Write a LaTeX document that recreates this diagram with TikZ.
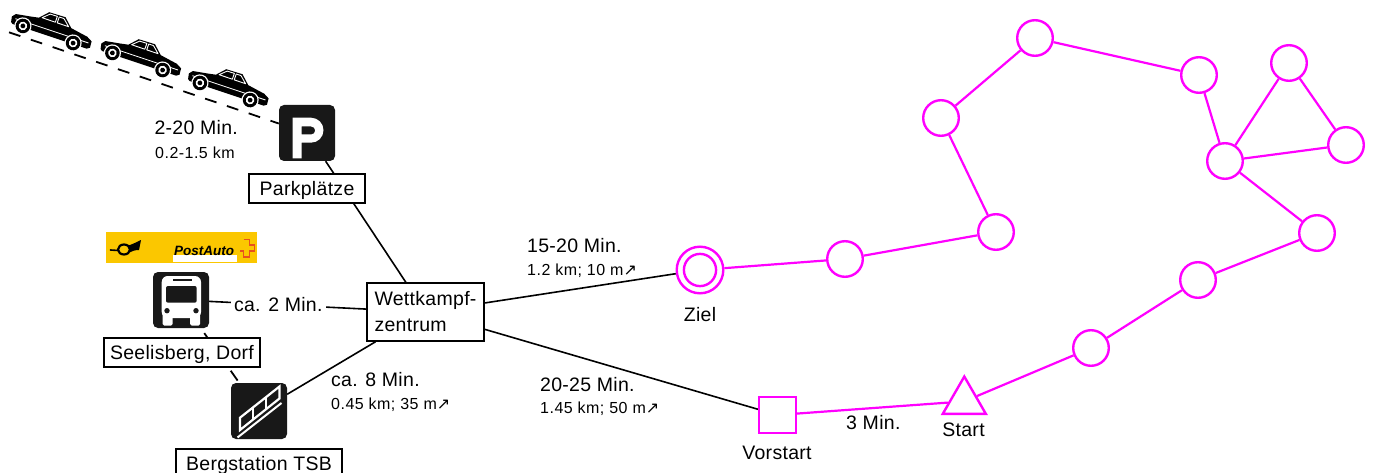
\documentclass[tikz,border=0pt]{standalone}
\usepackage{fontspec}
\setmainfont{Liberation Sans}[LetterSpace=1.5]
\newfontfamily\smallfont{Liberation Sans}[LetterSpace=3]
\newfontfamily\arrowfont{DejaVu Sans}
\newfontfamily\logofont{Liberation Sans}
\usetikzlibrary{shapes.geometric,backgrounds,calc}
\definecolor{mag}{HTML}{FF00FF}
\definecolor{iconbg}{HTML}{181818}
\definecolor{pyellow}{HTML}{FBC700}
\definecolor{pred}{HTML}{E8501E}
\newcommand\risearrow{{\arrowfont\symbol{"2197}}}
\begin{document}
\begin{tikzpicture}[x=1pt,y=-1pt,
  lbl/.style={font=\fontsize{19.5}{26}\selectfont},
  sml/.style={font=\smallfont\fontsize{16}{18}\selectfont},
  free/.style={inner sep=0pt, anchor=base west},
  boxbase/.style={draw, line width=1.5pt, fill=white, inner sep=0pt, lbl},
  tag/.style={boxbase, text height=16pt, text depth=2pt, minimum height=29pt},
  icon/.style={fill=iconbg, rounded corners=5pt, minimum size=56pt, inner sep=0pt},
  conn/.style={line width=1.6pt},
  dconn/.style={line width=1.8pt, dash pattern=on 12pt off 11pt},
  mcircle/.style={circle, draw=mag, line width=2.4pt, fill=white, minimum size=35.6pt, inner sep=0pt},
  medge/.style={draw=mag, line width=2.2pt},
  car/.pic={
    \fill (-39,0) -- (-40,5.5) -- (-37,9) -- (-22,11.5) -- (-14,13) -- (-6,21.5)
      -- (11,22) -- (20,13.5) -- (38,10.5) -- (43.5,7.5) -- (44,1) -- (41,-1) -- (-37,-1.5) -- cycle;
    \draw[white, line width=0.9pt, line join=round]
      (-11,14) -- (-4.5,20) -- (3,20.2) -- (3,14) -- cycle
      (5,14) -- (5,20.2) -- (10,20.2) -- (17,14) -- cycle;
    \draw[white, line width=0.8pt] (-36,4.5) -- (41,5);
    \foreach \wx in {-26.5,26.5} {
      \fill[white] (\wx,0) circle[radius=8.6pt];
      \fill (\wx,0) circle[radius=7.3pt];
      \fill[white] (\wx,0) circle[radius=4.3pt];
      \fill (\wx,0) circle[radius=2.4pt];
    }
  }
]
\useasboundingbox (0,0) rectangle (1373,473);

% parked cars along the access road
\coordinate (carstart) at (9,32.3);
\pic[rotate=-18.8, yscale=-1] at (48,34.5) {car};
\pic[rotate=-18.8, yscale=-1] at (137.5,61.5) {car};
\pic[rotate=-18.8, yscale=-1] at (225,91.5) {car};

% pictogram tiles
\node[icon] (park) at (307,133) {};
\fill[white, even odd rule]
  (292.7,158.3) -- (292.7,117.7) -- (311,117.7) arc[start angle=90, end angle=-90, radius=12.5pt]
  -- (301.7,142.7) -- (301.7,158.3) -- cycle
  (301.7,126.5) -- (311.2,126.5) arc[start angle=90, end angle=-90, radius=4pt]
  -- (301.7,134.5) -- cycle;

\node[icon] (bus) at (181,300) {};
\fill[white, rounded corners=6pt] (161.7,276) rectangle (201,318);
\fill[white, rounded corners=1.5pt] (162.7,314) rectangle (172.5,325.7);
\fill[white, rounded corners=1.5pt] (190.2,314) rectangle (200,325.7);
\fill[iconbg, rounded corners=2pt] (166,286) rectangle (196.7,302.7);
\fill[iconbg] (173,279) rectangle (192,281.2);
\fill[iconbg] (167,310.7) circle[radius=2.7pt];
\fill[iconbg] (196,310.7) circle[radius=2.7pt];

\node[icon] (gond) at (259,411) {};
\coordinate (g1) at (240,417.7);
\coordinate (g2) at (279.5,386.5);
\coordinate (g3) at (279.5,398.5);
\coordinate (g4) at (240,430);
\draw[white, line width=2.2pt] (g1) -- (g2) -- (g3) -- (g4) -- cycle;
\draw[white, line width=2.2pt]
  ($(g1)!1/3!(g2)$) -- ($(g4)!1/3!(g3)$)
  ($(g1)!2/3!(g2)$) -- ($(g4)!2/3!(g3)$);
\draw[white, line width=2pt] (237.5,437.5) -- (281.5,403);

% PostAuto sign
\node[fill=pyellow, minimum width=151pt, minimum height=31pt, inner sep=0pt] (logo) at (181.5,247.5) {};
\draw[line width=1.6pt, line cap=round] (110.5,250) -- (118,250.5);
\draw[line width=2.2pt] (124,249.5) ellipse[x radius=6pt, y radius=5pt];
\fill (128.5,245.5) .. controls (133,244) and (137,242) .. (141,240)
  -- (139,250) .. controls (135,250) and (132,251) .. (129.5,252.5) -- cycle;
\fill[white] (173,255) rectangle (237,261.5);
\node[inner sep=0pt, anchor=base west, font=\logofont\bfseries\itshape\fontsize{13.5}{15}\selectfont]
  (logotxt) at (174,255) {PostAuto};
\draw[pred, line width=1.5pt, line join=miter]
  (243.5,239.5) -- (249.5,239.5) -- (249.5,245) -- (254.5,245) -- (254.5,251) -- (249.5,251)
  -- (249.5,257) -- (243.5,257) -- (243.5,251) -- (240,251);

% named places
\node[tag, minimum width=116pt] (parktxt) at (307,188.5) {Parkplätze};
\node[tag, minimum width=156pt] (dorf) at (182,352.5) {Seelisberg, Dorf};
\node[tag, minimum width=166pt] (tsb) at (259,463.5) {Bergstation TSB};
\node[boxbase, minimum width=117pt, minimum height=58pt, align=left] (wk) at (425.5,312) {Wettkampf-\\zentrum};

% walking times
\node[lbl, free] (t1) at (527,252.3) {15-20 Min.};
\node[sml, free] (d1) at (527,275) {1.2 km; 10 m\risearrow};
\node[lbl, free] (t2) at (540,391) {20-25 Min.};
\node[sml, free] (d2) at (540,413.3) {1.45 km; 50 m\risearrow};
\node[lbl, free] (t3) at (331,386.7) {ca. 8 Min.};
\node[sml, free] (d3) at (331,409) {0.45 km; 35 m\risearrow};
\node[lbl, free] (t4) at (154.3,135) {2-20 Min.};
\node[sml, free] (d4) at (155,158.3) {0.2-1.5 km};

% competition course
\node[mcircle, minimum size=46.6pt] (ziel) at (700,270) {};
\draw[mag, line width=2.4pt] (ziel.center) circle[radius=16.1pt];
\node[lbl, inner sep=0pt, anchor=base] (zieltxt) at (700,321.7) {Ziel};
\node[draw=mag, line width=2.4pt, fill=white, minimum width=36.6pt, minimum height=35.6pt, inner sep=0pt] (vor) at (777.5,415) {};
\node[lbl, inner sep=0pt, anchor=base] (vortxt) at (777,459) {Vorstart};
\node[regular polygon, regular polygon sides=3, draw=mag, line width=2.4pt, fill=white, minimum size=49.7pt, inner sep=0pt] (start) at (964.3,401.4) {};
\node[lbl, inner sep=0pt, anchor=base] (starttxt) at (963.5,436) {Start};
\node[lbl, free] (t5) at (846,429.3) {3 Min.};
\node[mcircle] (m1) at (845,259) {};
\node[mcircle] (m2) at (996,232) {};
\node[mcircle] (m3) at (941,118) {};
\node[mcircle] (m4) at (1035,38) {};
\node[mcircle] (m5) at (1199,75) {};
\node[mcircle] (m6) at (1225,161) {};
\node[mcircle] (m7) at (1289,63) {};
\node[mcircle] (m8) at (1346,145) {};
\node[mcircle] (m9) at (1317,233) {};
\node[mcircle] (m10) at (1198,280) {};
\node[mcircle] (m11) at (1091,348) {};

\begin{pgfonlayer}{background}
  \fill[white] (0,0) rectangle (1373,473);
  % access routes
  \draw[dconn] (carstart) -- (park);
  \draw[conn] (wk) -- (park);
  \draw[conn] (bus) -- node[pos=0.44, fill=white, lbl, inner xsep=3pt, inner ysep=2pt] (l2) {ca. 2 Min.} (wk);
  \draw[dconn, dash phase=17pt] (bus) -- (gond);
  \draw[conn] (gond) -- (wk);
  \draw[conn] (wk) -- (ziel);
  \draw[conn] (wk) -- (vor);
  % course legs
  \draw[medge] (ziel) -- (m1) -- (m2) -- (m3) -- (m4) -- (m5) -- (m6);
  \draw[medge] (m6) -- (m7) -- (m8) -- (m6);
  \draw[medge] (m6) -- (m9) -- (m10) -- (m11) -- (start) -- (vor);
\end{pgfonlayer}
\end{tikzpicture}
\end{document}
